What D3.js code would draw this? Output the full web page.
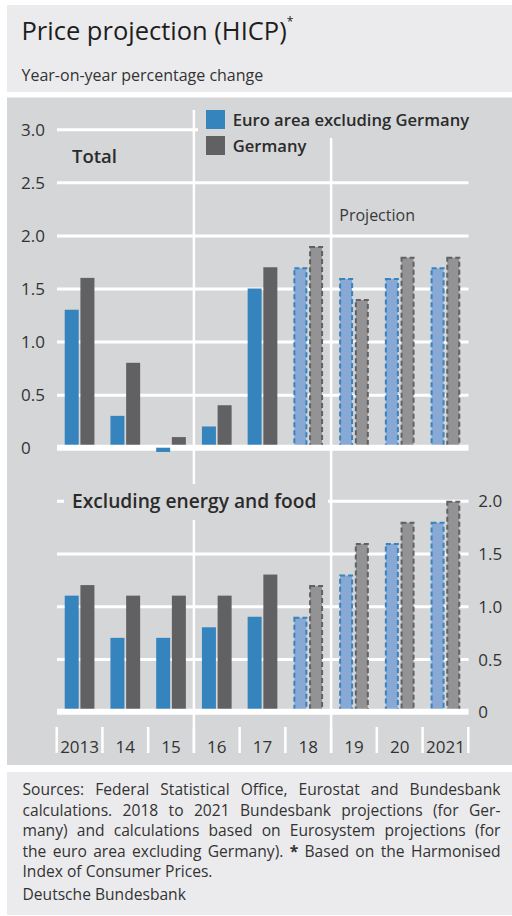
<!DOCTYPE html>
<html>
<head>
<meta charset="utf-8">
<script src="https://cdn.jsdelivr.net/npm/d3@7"></script>
<style>
  html, body { margin: 0; padding: 0; background: #fff; }
  svg { display: block; font-family: "Open Sans", "Noto Sans", sans-serif; }
</style>
</head>
<body>
<svg id="chart" width="512" height="916"></svg>
<script>
// Categories and series (annual HICP rates, % change on previous year)
const years = ["2013", "14", "15", "16", "17", "18", "19", "20", "2021"];
const projected = [false, false, false, false, false, true, true, true, true];
const totalEuroExDE = [1.3, 0.3, -0.04, 0.2, 1.5, 1.7, 1.6, 1.6, 1.7];
const totalDE = [1.6, 0.8, 0.1, 0.4, 1.7, 1.9, 1.4, 1.8, 1.8];
const coreEuroExDE = [1.1, 0.7, 0.7, 0.8, 0.9, 0.9, 1.3, 1.6, 1.8];
const coreDE = [1.2, 1.1, 1.1, 1.1, 1.3, 1.2, 1.6, 1.8, 2.0];
const topTicks = [0, 0.5, 1.0, 1.5, 2.0, 2.5, 3.0];
const bottomTicks = [0, 0.5, 1.0, 1.5, 2.0];
const seriesNames = ["Euro area excluding Germany", "Germany"];

const COL = {
  headerBg: "#ebebed",
  panelBg: "#d5d6d8",
  euro: "#3584bd",
  euroLight: "#88a9d5",
  de: "#616163",
  deLight: "#939396",
  text: "#2b2b2b",
  grid: "#ffffff"
};

const svg = d3.select("#chart");

// Background boxes
svg.append("rect").attr("x", 7).attr("y", 5).attr("width", 505).attr("height", 87).attr("fill", COL.headerBg);
svg.append("rect").attr("x", 7).attr("y", 97.5).attr("width", 505).attr("height", 667.5).attr("fill", COL.panelBg);
svg.append("rect").attr("x", 7).attr("y", 772).attr("width", 505).attr("height", 143).attr("fill", COL.headerBg);

// Title
const title = svg.append("text").attr("x", 21.5).attr("y", 39.5)
  .attr("font-size", 25.5).attr("fill", "#1e1e1e").text("Price projection (HICP)");
title.append("tspan").attr("font-size", 12).attr("dy", -14).text("*");
svg.append("text").attr("x", 21.5).attr("y", 81).attr("font-size", 16).attr("fill", "#333")
  .text("Year-on-year percentage change");

// Scales
const x = d3.scaleBand().domain(years).range([56.7, 468.3]).padding(0);
const yTop = d3.scaleLinear().domain([0, 3]).range([447.7, 129.3]);
const yBot = d3.scaleLinear().domain([0, 2]).range([711.7, 500.7]);
const gridX0 = 57, gridX1 = 468.5;
const fmt = v => v === 0 ? "0" : d3.format(".1f")(v);

// Horizontal gridlines
function grid(scale, ticks) {
  const g = svg.append("g").attr("transform", `translate(${gridX0},0)`)
    .call(d3.axisRight(scale).tickValues(ticks.filter(t => t !== 0)).tickSize(gridX1 - gridX0).tickFormat(""));
  g.select(".domain").remove();
  g.selectAll("line").attr("stroke", COL.grid).attr("stroke-width", 3);
}
grid(yTop, topTicks);
grid(yBot, bottomTicks);

// Vertical separators (2015|2016 and 2018|2019)
const sepBounds = [x("16"), x("19")];
svg.append("g").selectAll("line").data(sepBounds).join("line")
  .attr("x1", d => d).attr("x2", d => d).attr("y1", 110).attr("y2", 753)
  .attr("stroke", COL.grid).attr("stroke-width", 2.5);

// Category separators on the x axis
const bounds = years.map(y => x(y)).concat([x.range()[1]]);
svg.append("g").selectAll("line").data(bounds).join("line")
  .attr("x1", d => d).attr("x2", d => d).attr("y1", 727).attr("y2", 753)
  .attr("stroke", COL.grid).attr("stroke-width", 2.5);

// Panel label backgrounds
svg.append("rect").attr("x", 64).attr("y", 484).attr("width", 264).attr("height", 36).attr("fill", COL.panelBg);
svg.append("rect").attr("x", 198).attr("y", 100).attr("width", 290).attr("height", 38).attr("fill", COL.panelBg);
svg.append("rect").attr("x", 198).attr("y", 138).attr("width", 112).attr("height", 24).attr("fill", COL.panelBg);

// Bars: outturns solid, projections light fill with dashed outline
const barW = 14, barGap = 1.7;
function drawBars(scale, euroVals, deVals, negativePass) {
  const rows = [];
  years.forEach((yr, i) => {
    rows.push({ yr, v: euroVals[i], proj: projected[i], s: 0 });
    rows.push({ yr, v: deVals[i], proj: projected[i], s: 1 });
  });
  const data = rows.filter(d => negativePass ? d.v < 0 : d.v >= 0);
  const g = svg.append("g");
  g.selectAll("rect").data(data).join("rect")
    .attr("x", d => {
      const c = x(d.yr) + x.bandwidth() / 2;
      const x0 = d.s === 0 ? c - barGap / 2 - barW : c + barGap / 2;
      return d.proj ? x0 + 1 : x0;
    })
    .attr("width", d => d.proj ? barW - 2 : barW)
    .attr("y", d => Math.min(scale(d.v), scale(0)) + (d.proj ? 1 : 0))
    .attr("height", d => Math.abs(scale(d.v) - scale(0)) - (d.proj ? 1 : 0))
    .attr("fill", d => d.proj ? (d.s === 0 ? COL.euroLight : COL.deLight) : (d.s === 0 ? COL.euro : COL.de))
    .attr("stroke", d => d.proj ? (d.s === 0 ? COL.euro : COL.de) : "none")
    .attr("stroke-width", 2)
    .attr("stroke-dasharray", d => d.proj ? "5,3" : null);
}
drawBars(yTop, totalEuroExDE, totalDE, false);
drawBars(yBot, coreEuroExDE, coreDE, false);

// Zero lines
[yTop, yBot].forEach(s => {
  svg.append("line").attr("x1", gridX0).attr("x2", gridX1).attr("y1", s(0)).attr("y2", s(0))
    .attr("stroke", COL.grid).attr("stroke-width", 6);
});
drawBars(yTop, totalEuroExDE, totalDE, true);

// Y axes: left-aligned labels on the left (top panel), right side (bottom panel)
function yAxis(scale, ticks, xPos) {
  const g = svg.append("g").attr("transform", `translate(${xPos},0)`)
    .call(d3.axisRight(scale).tickValues(ticks).tickSize(0).tickPadding(0).tickFormat(fmt));
  g.select(".domain").remove();
  g.selectAll("text").attr("font-size", 17).attr("fill", "#333")
    .attr("font-family", "'Open Sans', sans-serif").attr("dy", "0.36em");
}
yAxis(yTop, topTicks, 21);
yAxis(yBot, bottomTicks, 478.3);

// X axis labels
const xg = svg.append("g").attr("transform", "translate(0,753)")
  .call(d3.axisBottom(x).tickSize(0).tickFormat(d => d));
xg.select(".domain").remove();
xg.selectAll("text").attr("y", 0).attr("dy", 0).attr("font-size", 17).attr("fill", "#333")
  .attr("font-family", "'Open Sans', sans-serif");

// Panel labels
svg.append("text").attr("x", 72).attr("y", 163).attr("font-size", 18.5).attr("font-weight", 600)
  .attr("fill", COL.text).text("Total");
svg.append("text").attr("x", 72).attr("y", 508.3).attr("font-size", 19.2).attr("font-weight", 600)
  .attr("fill", COL.text).text("Excluding energy and food");
svg.append("text").attr("x", 339.3).attr("y", 221).attr("font-size", 16)
  .attr("fill", "#3a3a3a").text("Projection");

// Legend
const legend = svg.append("g").selectAll("g").data(seriesNames).join("g")
  .attr("transform", (d, i) => `translate(206,${110 + i * 26})`);
legend.append("rect").attr("width", 19).attr("height", 19)
  .attr("fill", (d, i) => i === 0 ? COL.euro : COL.de);
legend.append("text").attr("x", 26.7).attr("y", 15.7).attr("font-size", 16.6).attr("font-weight", 600)
  .attr("fill", COL.text).text(d => d);

// Footnote (justified)
const noteLines = [
  ["Sources: Federal Statistical Office, Eurostat and Bundesbank", true],
  ["calculations. 2018 to 2021 Bundesbank projections (for Ger-", true],
  ["many) and calculations based on Eurosystem projections (for", true],
  ["the euro area excluding Germany). * Based on the Harmonised", true],
  ["Index of Consumer Prices.", false]
];
const noteX0 = 22.5, noteX1 = 500.5, noteSize = 15.6;
noteLines.forEach(([line, justify], li) => {
  const t = svg.append("text").attr("y", 795 + li * 20.5).attr("font-size", noteSize).attr("fill", "#333");
  const words = line.split(" ");
  const spans = words.map(w => t.append("tspan").text(w).attr("font-weight", w === "*" ? 700 : null));
  const widths = spans.map(s => s.node().getComputedTextLength());
  const total = d3.sum(widths);
  const space = justify ? (noteX1 - noteX0 - total) / (words.length - 1) : noteSize * 0.26;
  let cx = noteX0;
  spans.forEach((s, i) => { s.attr("x", cx); cx += widths[i] + space; });
});
svg.append("text").attr("x", noteX0).attr("y", 900).attr("font-size", noteSize).attr("fill", "#333")
  .text("Deutsche Bundesbank");
</script>
</body>
</html>
